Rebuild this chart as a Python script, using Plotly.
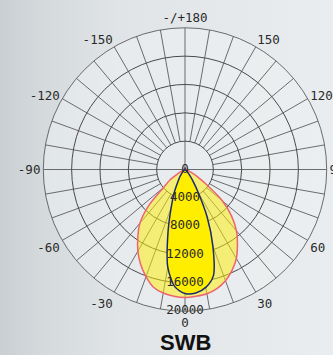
import base64
import plotly.graph_objects as go

# ---- data ----
angles = [-90, -85, -80, -75, -70, -65, -60, -55, -50, -45, -40, -35, -30, -25, -20, -15, -10, -5,
          0, 5, 10, 15, 20, 25, 30, 35, 40, 45, 50, 55, 60, 65, 70, 75, 80, 85, 90]
c0_c180 = [0, 0, 0, 0, 100, 400, 1100, 2600, 3900, 7300, 9900, 11600, 13300, 14800, 16100, 17200, 17700, 17950,
           18050, 17950, 17800, 17400, 16700, 15700, 14500, 12900, 11300, 9300, 6900, 3700, 2000, 900, 300, 0, 0, 0, 0]
c90_c270 = [0, 0, 0, 0, 0, 0, 0, 0, 100, 350, 750, 1300, 2000, 3600, 5700, 9300, 14000, 16600,
            17500, 17500, 16900, 15500, 11500, 7400, 3700, 1900, 900, 400, 150, 0, 0, 0, 0, 0, 0, 0, 0]
radial_ticks = [0, 4000, 8000, 12000, 16000, 20000]
angular_tickvals = [0, 30, 60, 90, 120, 150, 180, 210, 240, 270, 300, 330]
angular_ticktext = ["0", "30", "60", "90", "120", "150", "-/+180", "-150", "-120", "-90", "-60", "-30"]
title_text = "SWB"

W, H = 333, 355
CX, CY, R = 185.0, 169.5, 141.7
GRID = "#4a4a4a"
MONO = "DejaVu Sans Mono"

fig = go.Figure()

# spokes every 10 deg, starting at the first ring (except the main cross)
spoke_r, spoke_t = [], []
for a in range(0, 360, 10):
    if a % 90 == 0:
        continue
    spoke_r += [radial_ticks[1], radial_ticks[-1], None]
    spoke_t += [a, a, None]
for a in (0, 90):
    spoke_r += [radial_ticks[-1], 0, radial_ticks[-1], None]
    spoke_t += [a, a, a + 180, None]
fig.add_trace(go.Scatterpolar(r=spoke_r, theta=spoke_t, mode="lines",
                              line=dict(color=GRID, width=0.8), hoverinfo="skip",
                              showlegend=False, connectgaps=False))

# C0-C180 (red outline, pale yellow)
fig.add_trace(go.Scatterpolar(r=c0_c180, theta=angles, mode="lines", fill="toself",
                              fillcolor="rgba(255,240,0,0.5)",
                              line=dict(color="#ec6470", width=1.5, shape="spline", smoothing=0.8),
                              showlegend=False))
# C90-C270 (navy outline, bright yellow)
fig.add_trace(go.Scatterpolar(r=c90_c270, theta=angles, mode="lines", fill="toself",
                              fillcolor="#ffee00",
                              line=dict(color="#1c2a6e", width=1.5, shape="spline", smoothing=0.8),
                              showlegend=False))
# radial tick labels on the 0 axis
fig.add_trace(go.Scatterpolar(r=radial_ticks, theta=[0] * len(radial_ticks), mode="text",
                              text=[str(v) for v in radial_ticks], textposition="middle center",
                              textfont=dict(family=MONO, size=12.5, color="#2a2a2a"),
                              showlegend=False, hoverinfo="skip"))

svg = f"""<svg xmlns='http://www.w3.org/2000/svg' width='{W}' height='{H}'>
<defs><linearGradient id='g' x1='0' y1='0' x2='1' y2='0'>
<stop offset='0' stop-color='#c9cfd2'/><stop offset='0.12' stop-color='#d4d9dc'/>
<stop offset='0.35' stop-color='#e0e4e6'/><stop offset='1' stop-color='#e9edef'/>
</linearGradient></defs><rect width='{W}' height='{H}' fill='url(#g)'/></svg>"""
src = "data:image/svg+xml;base64," + base64.b64encode(svg.encode()).decode()

fig.update_layout(
    width=W, height=H,
    margin=dict(l=0, r=0, t=0, b=0),
    paper_bgcolor="#e6eaec",
    showlegend=False,
    images=[dict(source=src, xref="paper", yref="paper", x=0, y=1, sizex=1, sizey=1,
                 sizing="stretch", layer="below")],
    polar=dict(
        domain=dict(x=[(CX - R) / W, (CX + R) / W], y=[(H - CY - R) / H, (H - CY + R) / H]),
        bgcolor="rgba(236,240,242,0.55)",
        radialaxis=dict(range=[0, 20000], tickmode="array", tickvals=radial_ticks[1:],
                        showticklabels=False, ticks="", showline=False,
                        showgrid=True, gridcolor=GRID, gridwidth=0.8),
        angularaxis=dict(rotation=-90, direction="counterclockwise",
                         tickmode="array", tickvals=angular_tickvals, ticktext=angular_ticktext,
                         showgrid=False, ticks="", showline=True, linecolor=GRID, linewidth=0.8,
                         tickfont=dict(family=MONO, size=12.5, color="#2a2a2a")),
    ),
    annotations=[dict(text=title_text, x=CX / W, y=(H - 342.5) / H, xref="paper", yref="paper",
                      xanchor="center", yanchor="middle", showarrow=False,
                      font=dict(family="Liberation Sans", size=22, color="#111111", weight="bold"))],
)

fig.write_html("out.html", config={"displayModeBar": False},
               post_script="document.body.style.margin='0';document.body.style.overflow='hidden';")
